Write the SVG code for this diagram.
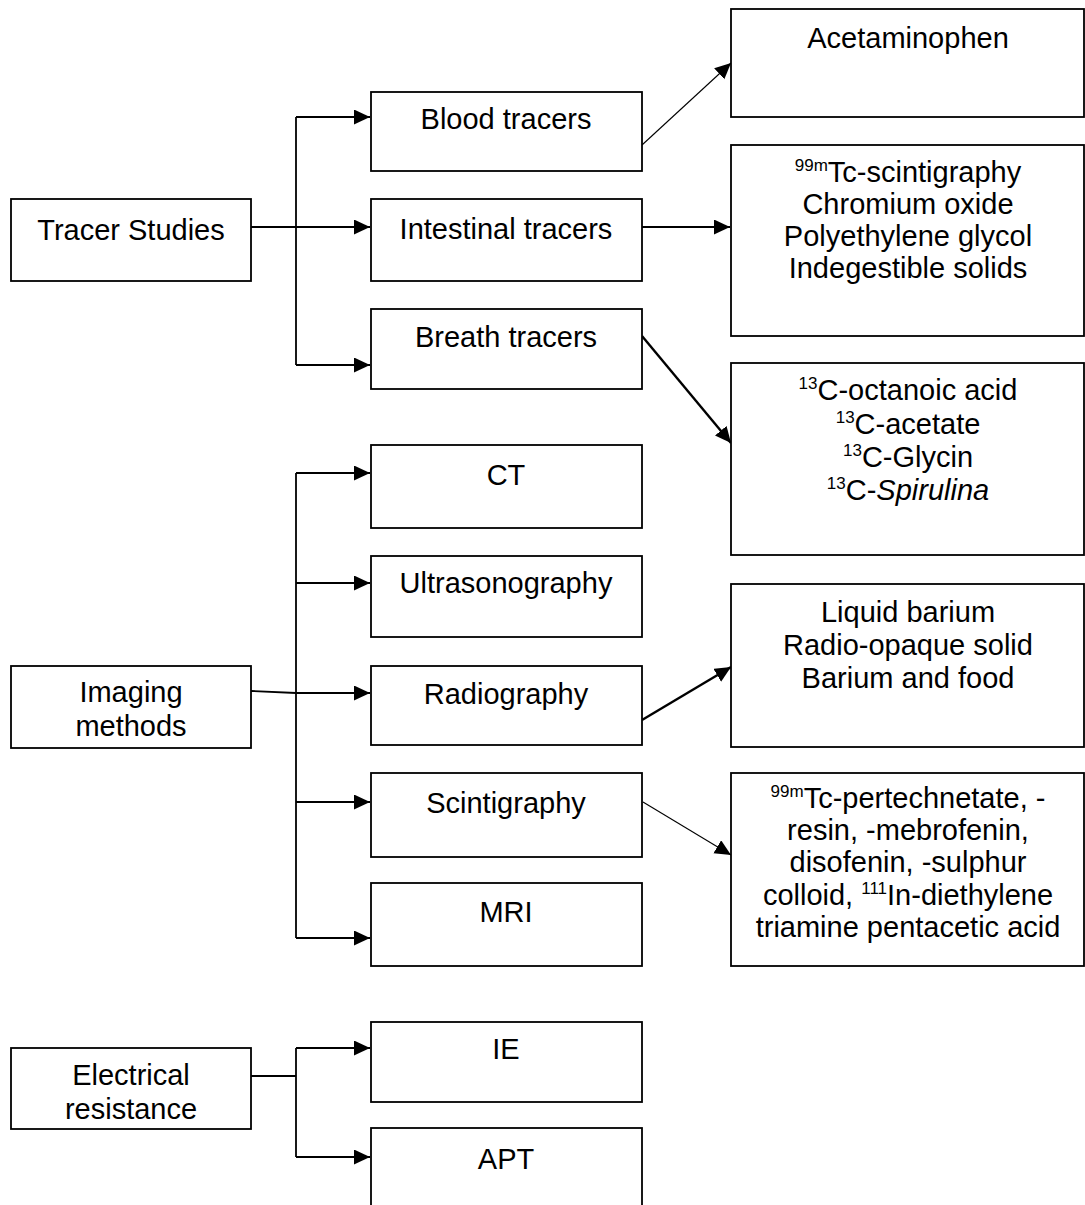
<svg xmlns="http://www.w3.org/2000/svg" width="1085" height="1205" viewBox="0 0 1085 1205">
<style>
.box{fill:#fff;stroke:#000;stroke-width:1.8}
.t{font-family:"Liberation Sans",Arial,sans-serif;font-size:29px;fill:#000;text-anchor:middle}
.sup{font-size:17px}
.ln{fill:none;stroke:#000;stroke-width:1.8}
.thin{fill:none;stroke:#000;stroke-width:1.1}
.thick{fill:none;stroke:#000;stroke-width:2.4}
</style>
<defs>
<marker id="ah" markerUnits="userSpaceOnUse" markerWidth="17" markerHeight="16" refX="16" refY="7.5" orient="auto">
<path d="M0,0 L16,7.5 L0,15 z" fill="#000"/>
</marker>
</defs>
<rect width="1085" height="1205" fill="#fff"/>

<g id="connectors">
<line class="ln" x1="251" y1="227" x2="296" y2="227"/>
<line class="ln" x1="296" y1="117" x2="296" y2="365"/>
<line class="ln" x1="296" y1="117" x2="370" y2="117" marker-end="url(#ah)"/>
<line class="ln" x1="296" y1="227" x2="370" y2="227" marker-end="url(#ah)"/>
<line class="ln" x1="296" y1="365" x2="370" y2="365" marker-end="url(#ah)"/>
<line class="thin" x1="642" y1="145" x2="731" y2="63" marker-end="url(#ah)"/>
<line class="ln" x1="642" y1="227" x2="730" y2="227" marker-end="url(#ah)"/>
<line class="thick" x1="642" y1="336" x2="731" y2="443" marker-end="url(#ah)"/>

<polyline class="ln" points="251,691 296,693"/>
<line class="ln" x1="296" y1="473" x2="296" y2="938"/>
<line class="ln" x1="296" y1="473" x2="370" y2="473" marker-end="url(#ah)"/>
<line class="ln" x1="296" y1="583" x2="370" y2="583" marker-end="url(#ah)"/>
<line class="ln" x1="296" y1="693" x2="370" y2="693" marker-end="url(#ah)"/>
<line class="ln" x1="296" y1="802" x2="370" y2="802" marker-end="url(#ah)"/>
<line class="ln" x1="296" y1="938" x2="370" y2="938" marker-end="url(#ah)"/>
<line class="thick" x1="642" y1="720" x2="731" y2="667" marker-end="url(#ah)"/>
<line class="thin" x1="643" y1="802" x2="731" y2="855" marker-end="url(#ah)"/>

<line class="ln" x1="251" y1="1076" x2="296" y2="1076"/>
<line class="ln" x1="296" y1="1048" x2="296" y2="1157"/>
<line class="ln" x1="296" y1="1048" x2="370" y2="1048" marker-end="url(#ah)"/>
<line class="ln" x1="296" y1="1157" x2="370" y2="1157" marker-end="url(#ah)"/>
</g>

<g id="tracer-studies">
<rect class="box" x="11" y="199" width="240" height="82"/>
<text class="t" x="131" y="240">Tracer Studies</text>
</g>
<g id="blood-tracers">
<rect class="box" x="371" y="92" width="271" height="79"/>
<text class="t" x="506" y="129">Blood tracers</text>
</g>
<g id="intestinal-tracers">
<rect class="box" x="371" y="199" width="271" height="82"/>
<text class="t" x="506" y="239">Intestinal tracers</text>
</g>
<g id="breath-tracers">
<rect class="box" x="371" y="309" width="271" height="80"/>
<text class="t" x="506" y="347">Breath tracers</text>
</g>
<g id="acetaminophen">
<rect class="box" x="731" y="9" width="353" height="108"/>
<text class="t" x="908" y="48">Acetaminophen</text>
</g>
<g id="intestinal-agents">
<rect class="box" x="731" y="145" width="353" height="191"/>
<text class="t" x="908" y="182"><tspan class="sup" dy="-11">99m</tspan><tspan dy="11">Tc-scintigraphy</tspan></text>
<text class="t" x="908" y="214">Chromium oxide</text>
<text class="t" x="908" y="246">Polyethylene glycol</text>
<text class="t" x="908" y="278">Indegestible solids</text>
</g>
<g id="breath-agents">
<rect class="box" x="731" y="363" width="353" height="192"/>
<text class="t" x="908" y="400"><tspan class="sup" dy="-11">13</tspan><tspan dy="11">C-octanoic acid</tspan></text>
<text class="t" x="908" y="434"><tspan class="sup" dy="-11">13</tspan><tspan dy="11">C-acetate</tspan></text>
<text class="t" x="908" y="467"><tspan class="sup" dy="-11">13</tspan><tspan dy="11">C-Glycin</tspan></text>
<text class="t" x="908" y="500"><tspan class="sup" dy="-11">13</tspan><tspan dy="11">C-</tspan><tspan font-style="italic">Spirulina</tspan></text>
</g>

<g id="imaging-methods">
<rect class="box" x="11" y="666" width="240" height="82"/>
<text class="t" x="131" y="702">Imaging</text>
<text class="t" x="131" y="736">methods</text>
</g>
<g id="ct">
<rect class="box" x="371" y="445" width="271" height="83"/>
<text class="t" x="506" y="485">CT</text>
</g>
<g id="ultrasonography">
<rect class="box" x="371" y="556" width="271" height="81"/>
<text class="t" x="506" y="593">Ultrasonography</text>
</g>
<g id="radiography">
<rect class="box" x="371" y="666" width="271" height="79"/>
<text class="t" x="506" y="704">Radiography</text>
</g>
<g id="scintigraphy">
<rect class="box" x="371" y="773" width="271" height="84"/>
<text class="t" x="506" y="813">Scintigraphy</text>
</g>
<g id="mri">
<rect class="box" x="371" y="883" width="271" height="83"/>
<text class="t" x="506" y="922">MRI</text>
</g>
<g id="radiography-agents">
<rect class="box" x="731" y="584" width="353" height="163"/>
<text class="t" x="908" y="622">Liquid barium</text>
<text class="t" x="908" y="655">Radio-opaque solid</text>
<text class="t" x="908" y="688">Barium and food</text>
</g>
<g id="scintigraphy-agents">
<rect class="box" x="731" y="773" width="353" height="193"/>
<text class="t" x="908" y="808"><tspan class="sup" dy="-11">99m</tspan><tspan dy="11">Tc-pertechnetate, -</tspan></text>
<text class="t" x="908" y="840">resin, -mebrofenin,</text>
<text class="t" x="908" y="872">disofenin, -sulphur</text>
<text class="t" x="908" y="905">colloid, <tspan class="sup" dy="-11">111</tspan><tspan dy="11">In-diethylene</tspan></text>
<text class="t" x="908" y="937">triamine pentacetic acid</text>
</g>

<g id="electrical-resistance">
<rect class="box" x="11" y="1048" width="240" height="81"/>
<text class="t" x="131" y="1085">Electrical</text>
<text class="t" x="131" y="1119">resistance</text>
</g>
<g id="ie">
<rect class="box" x="371" y="1022" width="271" height="80"/>
<text class="t" x="506" y="1059">IE</text>
</g>
<g id="apt">
<rect class="box" x="371" y="1128" width="271" height="90"/>
<text class="t" x="506" y="1169">APT</text>
</g>
</svg>
